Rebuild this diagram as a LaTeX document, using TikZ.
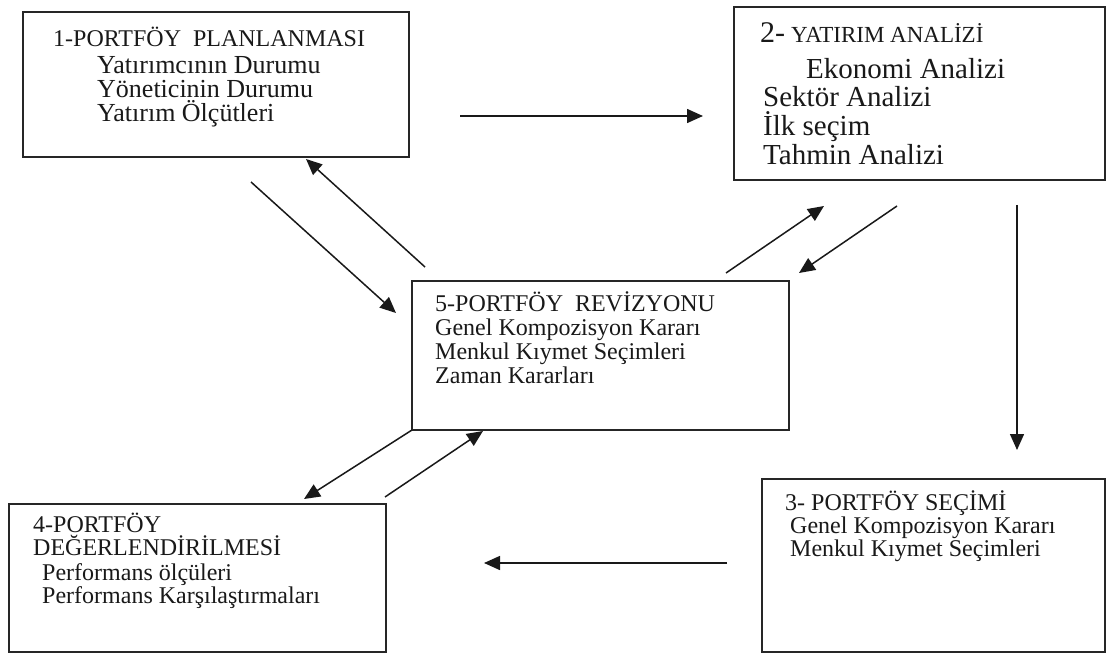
\documentclass[tikz,border=0pt]{standalone}
\usepackage{fontspec}
\setmainfont{Liberation Serif}
\usetikzlibrary{arrows.meta}
\begin{document}
\begin{tikzpicture}[x=1pt,y=-1pt,
  box/.style={draw=black!85,line width=1.4pt,inner sep=0pt,outer sep=0pt},
  txt/.style={anchor=base west,inner sep=0pt,text=black!90,font=\fontsize{24}{24}\selectfont},
  txtA/.style={txt,font=\fontsize{26}{26}\selectfont},
  txtB/.style={txt,font=\fontsize{29}{29}\selectfont},
  arr/.style={draw=black!90,line width=1.5pt,-{Triangle[length=16pt,width=14pt]}}]
\useasboundingbox (0,0) rectangle (1108,655);
\fill[white] (0,0) rectangle (1108,655);
% boxes
\node[box,minimum width=386pt,minimum height=145pt] (b1) at (216,84.5) {};
\node[box,minimum width=371pt,minimum height=173pt] (b2) at (919.5,93.5) {};
\node[box,minimum width=377pt,minimum height=149pt] (b5) at (600.5,355.5) {};
\node[box,minimum width=377pt,minimum height=148pt] (b4) at (197.5,578) {};
\node[box,minimum width=343pt,minimum height=173pt] (b3) at (933.5,565.5) {};
% box 1 text
\node[txt] (t1a) at (53,47) {1-PORTFÖY\ \ PLANLANMASI};
\node[txtA] (t1b) at (97,74) {Yatırımcının Durumu};
\node[txtA] (t1c) at (97,98) {Yöneticinin Durumu};
\node[txtA] (t1d) at (97,122) {Yatırım Ölçütleri};
% box 2 text
\node[txt] (t2a) at (760,43) {{\fontsize{30}{30}\selectfont 2-} {\fontsize{23}{23}\selectfont YATIRIM ANALİZİ}};
\node[txtB] (t2b) at (806,79) {Ekonomi Analizi};
\node[txtB] (t2c) at (763,107) {Sektör Analizi};
\node[txtB] (t2d) at (763,136) {İlk seçim};
\node[txtB] (t2e) at (763,165) {Tahmin Analizi};
% box 5 text
\node[txt] (t5a) at (435,311) {5-PORTFÖY\ \ REVİZYONU};
\node[txt] (t5b) at (435,335) {Genel Kompozisyon Kararı};
\node[txt] (t5c) at (435,359) {Menkul Kıymet Seçimleri};
\node[txt] (t5d) at (435,383) {Zaman Kararları};
% box 3 text
\node[txt] (t3a) at (785,510) {3- PORTFÖY SEÇİMİ};
\node[txt] (t3b) at (790,533) {Genel Kompozisyon Kararı};
\node[txt] (t3c) at (790,556) {Menkul Kıymet Seçimleri};
% box 4 text
\node[txt] (t4a) at (33,532) {4-PORTFÖY};
\node[txt] (t4b) at (33,555) {DEĞERLENDİRİLMESİ};
\node[txt] (t4c) at (42,580) {Performans ölçüleri};
\node[txt] (t4d) at (42,603) {Performans Karşılaştırmaları};
% arrow end points
\coordinate (a1s) at (460,116); \coordinate (a1e) at (703,116);
\coordinate (a2s) at (1017,205); \coordinate (a2e) at (1017,450);
\coordinate (a3s) at (727,563); \coordinate (a3e) at (484,563);
\coordinate (a4s) at (251,182); \coordinate (a4e) at (396,313);
\coordinate (a5s) at (425,267); \coordinate (a5e) at (306,159);
\coordinate (a6s) at (726,273); \coordinate (a6e) at (824,206);
\coordinate (a7s) at (897,206); \coordinate (a7e) at (799,273);
\coordinate (a9s) at (385,497); \coordinate (a9e) at (483,431);
\coordinate (a8e) at (304,499);
% arrows
\draw[arr] (a1s) -- (a1e);
\draw[arr] (a2s) -- (a2e);
\draw[arr] (a3s) -- (a3e);
\draw[arr] (a4s) -- (a4e);
\draw[arr] (a5s) -- (a5e);
\draw[arr] (a6s) -- (a6e);
\draw[arr] (a7s) -- (a7e);
\draw[arr] (b5.south west) -- (a8e);
\draw[arr] (a9s) -- (a9e);
\end{tikzpicture}
\end{document}
